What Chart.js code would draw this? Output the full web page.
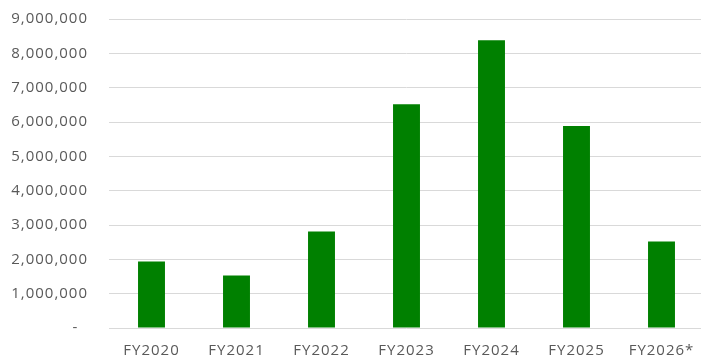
<!DOCTYPE html>
<html>
<head>
<meta charset="utf-8">
<script src="https://cdn.jsdelivr.net/npm/chart.js@4"></script>
<style>
html, body { margin: 0; padding: 0; overflow: hidden; background: #ffffff; }
#wrap { position: relative; width: 705px; height: 360px; }
</style>
</head>
<body>
<div id="wrap"><canvas id="c"></canvas></div>
<script>
const categories = ["FY2020", "FY2021", "FY2022", "FY2023", "FY2024", "FY2025", "FY2026*"];
const values = [1940000, 1530000, 2810000, 6520000, 8380000, 5880000, 2520000];
const yTicks = [0, 1000000, 2000000, 3000000, 4000000, 5000000, 6000000, 7000000, 8000000, 9000000];

const ctx = document.getElementById('c').getContext('2d');
const fontFamily = "'Open Sans', 'Liberation Sans', sans-serif";

const spacingPlugin = {
  id: 'spacing',
  beforeUpdate(chart) { try { chart.ctx.letterSpacing = '1px'; } catch (e) {} },
  beforeLayout(chart) { try { chart.ctx.letterSpacing = '1px'; } catch (e) {} },
  beforeDraw(chart) { try { chart.ctx.letterSpacing = '1px'; } catch (e) {} }
};

new Chart(ctx, {
  type: 'bar',
  plugins: [spacingPlugin],
  data: {
    labels: categories,
    datasets: [{
      data: values,
      backgroundColor: '#008000',
      borderWidth: 0,
      categoryPercentage: 1,
      barPercentage: 0.317
    }]
  },
  options: {
    responsive: true,
    maintainAspectRatio: false,
    animation: false,
    layout: { padding: { top: 19, right: 1, bottom: 0, left: 0 } },
    plugins: { legend: { display: false }, tooltip: { enabled: false }, title: { display: false } },
    scales: {
      x: {
        afterFit: (scale) => { scale.height = 32; scale.paddingLeft = 0; scale.paddingRight = 0; },
        grid: { display: false, drawTicks: false },
        border: { display: false },
        ticks: { color: '#595959', font: { family: fontFamily, size: 15 }, padding: 14, maxRotation: 0, autoSkip: false }
      },
      y: {
        min: 0,
        max: 9000000,
        afterBuildTicks: (scale) => { scale.ticks = yTicks.map(v => ({ value: v })); },
        afterFit: (scale) => { scale.width = 109; scale.paddingTop = 0; scale.paddingBottom = 0; },
        grid: { color: '#d9d9d9', lineWidth: 1, drawTicks: false },
        border: { display: false },
        ticks: {
          color: '#595959',
          font: { family: fontFamily, size: 15 },
          padding: 21,
          callback: (v) => v === 0 ? '-  ' : Number(v).toLocaleString('en-US')
        }
      }
    }
  }
});
</script>
</body>
</html>
